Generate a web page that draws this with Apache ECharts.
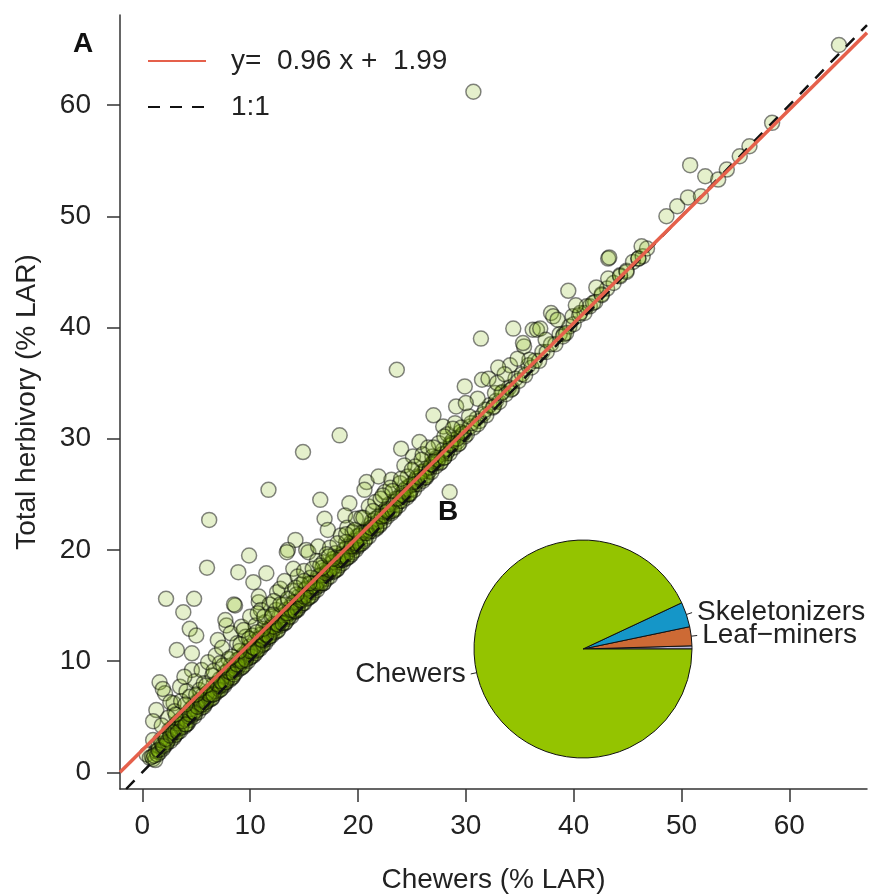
<!DOCTYPE html>
<html>
<head>
<meta charset="utf-8">
<script src="https://cdn.jsdelivr.net/npm/echarts@6/dist/echarts.min.js"></script>
<style>
  html, body { margin: 0; padding: 0; background: #fff; }
  #chart { width: 880px; height: 895px; }
</style>
</head>
<body>
<div id="chart"></div>
<script>
// axis limits and ticks
const xRange = [-2.07, 67.2];
const yRange = [-1.5, 68.1];
const xTicks = [0, 10, 20, 30, 40, 50, 60];
const yTicks = [0, 10, 20, 30, 40, 50, 60];

// fitted line
const fitSlope = 0.96;
const fitIntercept = 1.99;

// [chewers, total herbivory] in % LAR, points close to the 1:1 line
const bandPoints = [
  [0.4,1.6],[0.7,1.3],[1.0,1.2],[1.2,1.1],[1.0,2.9],[1.3,1.9],[1.5,2.4],[1.6,1.8],[1.8,2.6],[1.9,2.1],
  [2.1,3.2],[2.2,2.5],[2.4,2.9],[2.5,3.8],[2.6,2.8],[2.8,3.5],[2.9,3.1],[3.0,4.2],[3.1,3.4],[3.3,3.9],
  [3.4,4.6],[3.5,3.7],[3.7,4.3],[3.8,5.0],[3.9,4.1],[4.0,4.8],[4.2,4.4],[4.3,5.4],[4.4,4.7],[4.6,5.1],
  [4.7,5.9],[4.8,5.0],[5.0,5.6],[5.1,6.3],[5.2,5.4],[5.4,6.0],[5.5,5.8],[5.6,6.9],[5.8,6.1],[5.9,6.6],
  [6.0,6.4],[6.1,7.2],[6.2,6.5],[6.4,7.0],[6.5,6.7],[6.6,7.9],[6.8,7.1],[6.9,7.6],[7.0,7.3],[7.2,8.4],
  [7.3,7.5],[7.4,8.0],[7.6,7.8],[7.7,9.0],[7.8,8.1],[8.0,8.7],[8.1,8.3],[8.2,9.6],[8.4,8.6],[8.5,9.2],
  [8.7,9.0],[8.8,10.1],[9.0,9.3],[9.1,9.8],[9.2,9.4],[9.4,10.6],[9.5,9.7],[9.6,10.2],[9.8,10.0],[9.9,11.3],
  [10.0,10.3],[10.2,10.8],[10.3,10.5],[10.4,11.7],[10.6,10.9],[10.7,11.3],[10.9,11.1],[11.0,12.4],[11.1,11.4],[11.3,11.9],
  [11.4,11.6],[11.6,12.8],[11.7,12.0],[11.9,12.5],
  [6.3,6.9],[6.7,7.3],[7.1,7.7],[7.5,8.6],[7.9,8.4],[8.3,9.0],[8.6,9.6],[8.9,9.5],[9.3,10.1],[9.7,10.4],
  [10.1,11.0],[10.5,11.1],[10.8,12.0],[11.2,11.8],[11.5,12.3],[11.8,12.9],
  [12.0,12.3],[12.1,13.3],[12.3,12.6],[12.4,13.0],[12.6,12.8],[12.7,14.0],[12.9,13.2],[13.0,13.7],[13.2,13.4],[13.3,14.6],
  [13.5,13.8],[13.6,14.3],[13.8,14.0],[13.9,15.2],[14.1,14.4],[14.2,14.9],[14.4,14.6],[14.5,15.8],[14.7,15.0],[14.8,15.5],
  [15.0,15.2],[15.1,16.4],[15.3,15.6],[15.4,16.1],[15.6,15.8],[15.7,17.0],[15.9,16.2],[16.0,16.7],[16.2,16.4],[16.3,17.6],
  [16.5,16.8],[16.6,17.3],[16.8,17.0],[16.9,18.2],[17.1,17.4],[17.2,17.9],[17.4,17.6],[17.5,18.8],[17.7,18.0],[17.8,18.5],
  [18.0,18.2],[18.1,19.4],[18.3,18.6],[18.4,19.1],[18.6,18.8],[18.7,20.0],[18.9,19.2],[19.0,19.7],[19.2,19.4],[19.3,20.6],
  [19.5,19.8],[19.6,20.3],[19.8,20.0],[19.9,21.2],
  [12.2,12.9],[12.8,13.5],[13.4,14.1],[13.7,14.8],[14.0,14.5],[14.6,15.3],[14.9,16.0],[15.2,15.9],[15.8,16.5],[16.1,17.2],
  [16.4,17.0],[17.0,17.7],[17.3,18.4],[17.6,18.3],[18.2,18.9],[18.5,19.6],[18.8,19.5],[19.4,20.1],[19.7,20.8],
  [20.0,20.3],[20.2,21.0],[20.4,20.6],[20.5,21.6],[20.7,21.0],[20.9,21.5],[21.0,21.2],[21.2,22.3],[21.4,21.7],[21.5,22.1],
  [21.7,21.9],[21.9,23.0],[22.0,22.3],[22.2,22.8],[22.4,22.6],[22.6,23.7],[22.7,23.0],[22.9,23.4],[23.1,23.3],[23.3,24.3],
  [23.4,23.7],[23.6,24.1],[23.8,24.0],[24.0,25.0],[24.1,24.4],[24.3,24.8],[24.5,24.7],[24.7,25.7],[24.8,25.1],[25.0,25.5],
  [25.2,25.4],[25.4,26.4],[25.6,25.9],[25.8,26.3],[26.0,26.2],[26.2,27.1],[26.4,26.7],[26.6,27.1],[26.8,27.0],[27.0,27.9],
  [27.2,27.5],[27.4,27.9],[27.6,27.8],[27.8,28.6],[28.0,28.3],[28.2,28.7],[28.5,28.7],[28.7,29.5],[28.9,29.2],[29.2,29.7],
  [29.4,29.6],[29.7,30.4],[29.9,30.2],
  [20.1,21.3],[20.8,21.8],[21.3,22.6],[21.8,22.5],[22.3,23.4],[22.8,23.6],[23.5,24.6],[24.2,25.3],[24.9,25.8],[25.5,26.6],
  [26.3,27.3],[27.1,28.0],[27.9,29.0],[28.6,29.6],[29.5,30.6],
  [30.1,30.4],[30.4,31.1],[30.7,31.0],[31.0,31.8],[31.3,31.6],[31.6,32.2],[31.9,32.1],[32.2,33.0],[32.5,32.8],[32.8,33.4],
  [33.1,33.3],[33.4,34.2],[33.7,34.0],[34.0,34.6],[34.3,34.5],[34.6,35.4],[34.9,35.2],[35.2,35.8],[35.5,35.7],[35.8,36.6],
  [36.1,36.4],[36.4,37.0],[36.8,37.0],[37.1,37.8],[37.5,37.8],[37.9,38.5],[38.3,38.5],[38.7,39.4],[39.1,39.4],[39.6,40.1],
  [40.0,40.3],[40.5,41.1],[41.0,41.3],[41.5,41.9],[42.0,42.3],[42.6,43.0],[43.1,43.5],[43.7,44.0],[44.3,44.7],[44.9,45.1],
  [45.5,45.9],[46.0,46.2],[46.4,46.4],[46.8,47.1],
  [0.9,1.4],[1.4,1.6],[1.7,2.9],[2.0,2.3],[2.3,2.7],[2.7,3.9],[3.0,3.3],[3.2,4.4],[3.6,4.0],[4.1,4.3],
  [4.3,5.0],[4.5,5.7],[4.9,5.3],[5.3,6.5],[5.7,5.9],[6.0,7.1],[6.4,6.6],[6.9,8.0],[7.2,7.4],[7.5,7.9],
  [7.9,9.1],[8.3,8.5],[8.6,9.3],[9.0,10.2],[9.3,9.5],[9.7,10.9],[10.1,10.4],[10.5,10.7],[10.9,12.0],[11.2,11.5],
  [11.7,12.2],[12.0,13.1],[12.5,12.7],[12.9,14.1],[13.3,13.5],[13.6,14.0],[14.1,15.3],[14.4,14.7],[14.9,15.2],[15.2,16.5],
  [15.7,15.9],[16.1,16.6],[16.5,17.7],[16.8,17.0],[17.3,18.0],[17.7,18.9],[18.1,18.3],[18.6,19.1],[19.0,20.3],[19.4,19.6],
  [19.9,20.4],[20.3,21.5],[20.6,20.8],[21.1,21.7],[21.6,22.8],[22.0,22.2],[22.5,23.1],[22.9,24.1],[23.4,23.6],[23.9,24.4],
  [24.4,25.5],[24.8,25.0],[25.3,25.9],[25.9,27.0],[26.3,26.5],[26.7,27.4],[27.3,28.3],[27.7,27.9],[28.3,28.9],[28.8,29.9],
  [29.3,29.5],[29.8,30.5],[30.5,31.4],[31.1,31.3],[31.8,32.6],[32.6,32.9],[33.3,34.1],[34.2,34.4],
  [1.1,1.5],[1.5,2.0],[1.9,2.4],[2.2,3.0],[2.6,3.3],[2.9,3.6],[3.3,3.6],[3.7,4.6],[4.0,4.3],[4.4,5.2],
  [4.8,5.4],[5.1,5.9],[5.5,6.1],[5.9,6.3],[6.2,7.0],[6.6,7.0],[7.0,7.9],[7.3,8.2],[7.7,8.1],[8.1,9.0],
  [8.5,8.8],[8.8,9.7],[9.2,10.0],[9.6,10.1],[10.0,10.9],[10.3,11.2],[10.7,11.0],[11.1,11.9],[11.5,12.4],[11.8,12.2],
  [12.2,13.1],[12.6,13.3],[13.0,13.4],[13.4,14.3],[13.8,14.6],[14.2,14.5],[14.6,15.5],[15.0,15.8],[15.4,15.7],[15.8,16.7],
  [16.2,17.0],[16.6,17.0],[17.0,17.9],[17.4,18.2],[17.8,18.1],[18.2,19.1],[18.6,19.4],[19.0,19.3],[19.4,20.3],[19.8,20.6],
  [20.2,20.5],[20.7,21.5],[21.2,22.0],[21.7,22.0],[22.2,23.0],[22.7,23.5],[23.2,23.5],[23.7,24.6],[24.2,24.9],[24.7,25.0],
  [25.2,26.1],[25.7,26.5],[26.2,26.5],[26.8,27.7],[27.4,28.1],[28.0,28.3],[28.6,29.4],[29.2,30.0]
];

// points spread above the band
const spreadPoints = [
  [1.3,5.6],[1.0,4.6],[1.6,8.1],[2.1,7.1],[2.9,6.2],[1.9,7.5],[3.5,7.7],[3.2,11.0],[4.6,10.7],[4.6,9.2],
  [4.4,12.9],[5.0,12.3],[2.2,15.6],[4.8,15.6],[3.8,14.4],[2.6,6.3],[3.0,5.5],[3.6,6.4],[4.1,7.3],[4.9,8.2],
  [5.5,9.2],[5.3,7.4],[2.4,4.9],[1.8,4.2],[3.9,8.6],[4.4,6.8],[5.7,8.0],
  [6.2,22.7],[6.0,18.4],[7.8,13.2],[7.0,11.9],[6.1,9.9],[7.7,13.7],[8.6,15.0],[8.5,15.1],[10.8,15.3],
  [10.8,15.8],[9.9,19.5],[8.9,18.0],[10.3,17.1],[11.5,17.9],[12.5,16.2],[6.8,10.5],[7.4,11.2],[8.2,12.5],[8.8,11.6],
  [9.2,13.1],[9.6,12.2],[10.0,14.0],[10.5,13.2],[11.0,14.6],[11.4,13.5],[11.8,15.1],[8.0,10.2],[9.0,10.9],[10.2,12.3],
  [11.2,12.9],[6.5,8.7],[7.2,9.8],[9.4,12.8],[10.7,14.3],[12.0,14.0],
  [11.7,25.4],[14.9,28.8],[18.3,30.3],[14.2,20.9],[13.5,20.0],[15.2,20.0],[16.5,24.5],[16.9,22.8],[14.0,18.3],[17.2,21.8],
  [13.4,19.8],[15.4,19.8],[16.3,20.3],[19.2,24.2],[18.8,23.1],[12.8,16.5],[13.2,17.2],[13.9,16.3],[14.4,17.6],[15.0,18.1],
  [15.6,17.5],[16.2,19.0],[16.8,18.9],[17.4,20.2],[17.9,19.7],[18.4,21.3],[19.0,22.0],[19.5,21.6],[12.4,14.6],[13.1,15.1],
  [14.3,16.0],[15.5,17.0],[16.7,18.4],[17.7,19.2],[18.9,20.7],[12.2,15.4],[14.7,16.9],[17.1,19.6],[19.8,22.8],
  [20.8,26.1],[21.9,26.6],[20.6,25.4],[23.1,26.3],[24.0,29.1],[25.7,29.7],[25.1,28.4],[24.3,27.6],[23.6,36.2],[27.0,32.1],
  [27.9,31.1],[29.1,32.9],[21.0,23.9],[22.5,25.2],[20.3,22.9],[21.6,24.3],[23.0,25.6],[23.9,26.0],[25.3,27.5],[26.0,28.6],
  [26.9,28.4],[27.5,29.6],[28.3,30.4],[29.0,31.4],[29.6,31.0],[22.1,24.6],[24.6,26.6],[26.5,29.2],[28.8,30.9],[28.5,25.2],
  [30.7,61.2],[31.4,39.0],[34.4,39.9],[35.4,38.3],[36.2,39.8],[29.9,34.7],[31.5,35.3],[32.1,35.4],[34.1,36.6],[31.1,33.6],
  [32.7,34.1],[35.9,37.1],[36.6,39.8],[36.9,39.9],[35.3,38.6],[39.0,39.2],[39.3,39.5],[37.9,41.3],[38.1,41.0],[39.5,43.3],
  [39.9,41.0],[40.6,41.3],[41.2,41.9],[41.8,42.2],[42.6,42.9],[43.2,46.2],[43.3,46.3],[43.2,44.4],[44.3,44.6],[44.9,45.0],
  [46.0,46.2],[46.3,47.3],[30.3,32.0],[32.9,35.0],[33.6,35.8],[30.0,33.2],[33.0,36.4],[34.8,37.2],[37.4,38.9],[38.5,40.7],
  [40.2,42.0],[42.1,43.6],
  [3.1,5.2],[4.0,6.1],[5.0,7.0],[5.9,7.8],[6.6,9.1],[7.5,9.6],[8.3,10.4],[9.1,11.5],[9.9,12.0],[10.6,12.6],
  [11.3,14.0],[12.1,14.2],[12.8,15.1],[13.5,15.6],[14.2,16.6],[15.0,17.2],[15.8,18.3],[16.5,18.6],[17.3,19.4],[18.1,20.6],
  [18.9,21.4],[19.7,21.8],[20.5,22.9],[21.4,23.5],[22.3,24.9],[23.2,25.3],[24.0,26.4],[25.0,27.2],[25.9,28.1],[27.0,29.2],
  [28.0,30.2],
  [48.6,50.0],[49.6,50.9],[50.6,51.7],[51.8,51.8],[52.2,53.6],[53.4,53.3],[54.2,54.2],[55.4,55.4],[56.3,56.3],[50.8,54.6],
  [58.4,58.4],[64.6,65.4]
];

// inset pie (B): share of damage by feeding guild
const guildNames = ['', 'Leaf\u2212miners', 'Skeletonizers', 'Chewers'];
const guildShares = [0.47, 2.81, 3.69, 93.03];

const chart = echarts.init(document.getElementById('chart'));
const font = '"Liberation Sans", Arial, sans-serif';
const fitLabel = 'y=  ' + fitSlope.toFixed(2) + ' x +  ' + fitIntercept.toFixed(2);
const fit = x => fitSlope * x + fitIntercept;

const axisCommon = {
  type: 'value',
  nameLocation: 'middle',
  nameTextStyle: { fontSize: 28, color: '#222' },
  axisLine: { onZero: false, lineStyle: { color: '#333', width: 1.5 } },
  splitLine: { show: false }
};

const option = {
  animation: false,
  textStyle: { fontFamily: font },
  grid: { left: 120, right: 13, top: 15, bottom: 106, outerBoundsMode: 'none' },
  xAxis: Object.assign({}, axisCommon, {
    min: xRange[0], max: xRange[1],
    name: 'Chewers (% LAR)', nameGap: 77,
    axisTick: { customValues: xTicks, length: 13, lineStyle: { color: '#333', width: 1.5 } },
    axisLabel: { customValues: xTicks, fontSize: 28, color: '#222', margin: 23 }
  }),
  yAxis: Object.assign({}, axisCommon, {
    min: yRange[0], max: yRange[1],
    name: 'Total herbivory (% LAR)', nameGap: 79,
    axisTick: { customValues: yTicks, length: 13, lineStyle: { color: '#333', width: 1.5 } },
    axisLabel: { customValues: yTicks, fontSize: 28, color: '#222', margin: 29 }
  }),
  legend: {
    orient: 'vertical', left: 142, top: 42,
    itemWidth: 58, itemHeight: 28, itemGap: 18,
    data: [fitLabel, '1:1'],
    selectedMode: false,
    itemStyle: { opacity: 0 },
    textStyle: { fontSize: 28, color: '#222', padding: [0, 0, 0, 20] }
  },
  graphic: [
    { type: 'text', left: 73, top: 30, style: { text: 'A', font: 'bold 28px ' + font, fill: '#111' } },
    { type: 'text', left: 438, top: 498, style: { text: 'B', font: 'bold 28px ' + font, fill: '#111' } }
  ],
  series: [
    {
      type: 'scatter',
      data: bandPoints.concat(spreadPoints),
      symbolSize: 15,
      itemStyle: { color: 'rgba(125,178,0,0.25)', borderColor: 'rgba(0,0,0,0.6)', borderWidth: 1.5 },
      silent: true
    },
    {
      name: '1:1', type: 'line', symbol: 'none', silent: true,
      itemStyle: { color: 'transparent' },
      data: [[yRange[0], yRange[0]], [xRange[1], xRange[1]]],
      lineStyle: { color: '#111', width: 2.5, type: [12, 10] }
    },
    {
      name: fitLabel, type: 'line', symbol: 'none', silent: true,
      itemStyle: { color: 'transparent' },
      data: [[xRange[0], fit(xRange[0])], [xRange[1], fit(xRange[1])]],
      lineStyle: { color: '#e5604b', width: 3.5 }
    },
    {
      type: 'pie', center: [583, 649], radius: 109,
      startAngle: 0, clockwise: false, avoidLabelOverlap: false,
      color: ['#b8b8d8', '#cd6a35', '#1596c8', '#94c400'],
      itemStyle: { borderColor: '#111', borderWidth: 1 },
      label: { show: true, position: 'outside', fontSize: 28, lineHeight: 22, color: '#222' },
      labelLine: { show: true, length: 6, length2: 0, lineStyle: { color: '#222', width: 1 } },
      labelLayout: { hideOverlap: false },
      emphasis: { disabled: true },
      silent: true,
      data: guildNames.map((n, i) => ({
        name: n, value: guildShares[i],
        label: { show: n !== '' }, labelLine: { show: n !== '' }
      }))
    }
  ]
};

chart.setOption(option);
</script>
</body>
</html>
